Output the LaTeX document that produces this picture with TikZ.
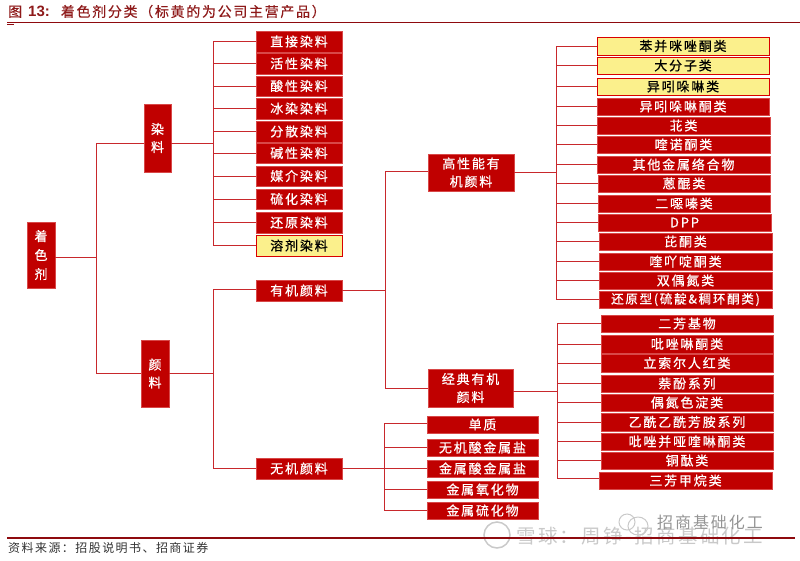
\documentclass[tikz,border=0pt]{standalone}
\usepackage{fontspec}
\setmainfont{Liberation Sans}
\newfontfamily\cjk[LetterSpace=14,FakeBold=0.6]{Noto Sans CJK SC}
\newfontfamily\cjkt[LetterSpace=12,FakeBold=0.4]{Noto Sans CJK SC}
\newfontfamily\cjks[LetterSpace=12]{Noto Sans CJK SC}
\newfontfamily\cjkw[LetterSpace=12]{Noto Sans CJK SC}
\definecolor{boxred}{HTML}{C00000}
\definecolor{edge}{HTML}{D84848}
\definecolor{lnk}{HTML}{C8282C}
\definecolor{yel}{HTML}{FBF08C}
\definecolor{rule}{HTML}{8E0A0E}
\definecolor{ttl}{HTML}{8E1A1A}
\definecolor{wm}{HTML}{C9C9C9}
\tikzset{
 rbox/.style={draw=edge,line width=.5pt,fill=boxred,text=white,inner sep=0pt,align=center,font=\cjk\fontsize{13}{18}\selectfont},
 ybox/.style={rbox,draw=red!85!black,fill=yel,text=black},
 lnkline/.style={draw=lnk,line width=.9pt},
 wmark/.style={text=wm,inner sep=0pt,anchor=west},
}
\newcommand{\bx}[7][rbox]{\node[#1,minimum width=#5pt-#3pt,minimum height=#6pt-#4pt] (#2) at ({(#3+#5)/2},{(#4+#6)/2}) {#7};}
\begin{document}
\begin{tikzpicture}[x=1pt,y=-1pt]
\useasboundingbox (0,0) rectangle (800,560);
% watermark
\draw[draw=wm,line width=1.5pt] (497,535) circle (13);
\draw[draw=wm,line width=1pt] (627,522) ellipse (8 and 8);
\draw[draw=wm,line width=1pt] (638,526) ellipse (10 and 9);
\node[wmark,font=\cjkw\fontsize{19.5}{22}\selectfont] (wm1) at (516,536) {雪球：周铮-招商基础化工};
\node[wmark,text=black!42,font=\cjkw\fontsize{16}{18}\selectfont] (wm2) at (657,522) {招商基础化工};
% title
\node[anchor=west,inner sep=0pt,text=ttl,font=\cjkt\fontsize{14}{16}\selectfont] (title) at (8,11.5) {图\hspace{6pt}{\fontspec{Liberation Sans}\bfseries\fontsize{15}{16}\selectfont 13:}\hspace{11pt}着色剂分类（标黄的为公司主营产品）};
\coordinate (ruleL) at (7,22.5); \coordinate (ruleR) at (800,22.5);
\draw[draw=rule,line width=.9pt] (ruleL) -- (ruleR);
\draw[draw=rule,line width=1pt] (7,24) -- (14,24);
% left
\bx{col}{27}{222}{55}{288}{着\\[1pt]色\\[1pt]剂}
\bx{ran}{144}{104}{171}{172}{染\\料}
\bx{yan}{141}{340}{169}{407}{颜\\料}
% dyes
\bx{d1}{256}{31}{342}{52}{直接染料}
\bx{d2}{256}{53}{342}{74}{活性染料}
\bx{d3}{256}{76}{342}{96}{酸性染料}
\bx{d4}{256}{98}{342}{119}{冰染染料}
\bx{d5}{256}{121}{342}{142}{分散染料}
\bx{d6}{256}{143}{342}{163}{碱性染料}
\bx{d7}{256}{166}{342}{186}{媒介染料}
\bx{d8}{256}{189}{342}{209}{硫化染料}
\bx{d9}{256}{212}{342}{233}{还原染料}
\bx[ybox]{d10}{256}{235}{342}{256}{溶剂染料}
% pigments
\bx{org}{256}{280}{342}{301}{有机颜料}
\bx{inorg}{256}{458}{342}{479}{无机颜料}
\bx{hp}{428}{154}{514}{191}{高性能有\\机颜料}
\bx{cl}{428}{369}{513}{407}{经典有机\\颜料}
% inorganic
\bx{i1}{427}{416}{538}{433}{单质}
\bx{i2}{427}{439}{538}{456}{无机酸金属盐}
\bx{i3}{427}{460}{538}{477}{金属酸金属盐}
\bx{i4}{427}{481}{538}{498}{金属氧化物}
\bx{i5}{427}{502}{538}{519}{金属硫化物}
% high performance
\bx[ybox]{h1}{597}{37}{769}{55}{苯并咪唑酮类}
\bx[ybox]{h2}{597}{57}{769}{74}{大分子类}
\bx[ybox]{h3}{597}{78}{769}{95}{异吲哚啉类}
\bx{h4}{597}{98}{769}{115}{异吲哚啉酮类}
\bx{h5}{597}{117}{770}{134}{苝类}
\bx{h6}{597}{136}{770}{153}{喹诺酮类}
\bx{h7}{597}{156}{770}{173}{其他金属络合物}
\bx{h8}{598}{175}{770}{192}{蒽醌类}
\bx{h9}{598}{195}{770}{212}{二噁嗪类}
\bx{h10}{598}{214}{771}{231}{DPP}
\bx{h11}{599}{233}{772}{250}{芘酮类}
\bx{h12}{599}{253}{772}{270}{喹吖啶酮类}
\bx{h13}{599}{272}{772}{289}{双偶氮类}
\bx{h14}{599}{291}{772}{308}{\fontsize{12.5}{18}\selectfont 还原型(硫靛\&稠环酮类)}
% classic
\bx{c1}{601}{315}{773}{332}{二芳基物}
\bx{c2}{601}{335}{773}{353}{吡唑啉酮类}
\bx{c3}{601}{354}{773}{372}{立索尔人红类}
\bx{c4}{601}{375}{773}{392}{萘酚系列}
\bx{c5}{601}{394}{773}{411}{偶氮色淀类}
\bx{c6}{601}{413}{773}{431}{乙酰乙酰芳胺系列}
\bx{c7}{601}{433}{773}{450}{吡唑并哑喹啉酮类}
\bx{c8}{601}{452}{773}{469}{铜酞类}
\bx{c9}{599}{472}{772}{489}{三芳甲烷类}
% trunks
\coordinate (t0) at (96,257);
\coordinate (t1) at (213,143.5);
\coordinate (t2) at (213,373.5);
\coordinate (t3) at (385,290.5);
\coordinate (t4) at (384,468.5);
\coordinate (t5) at (556,172.5);
\coordinate (t6) at (557.5,391);
\draw[lnkline] (t0 -| col.east) -- (t0);
\draw[lnkline] (t0) |- (t1 -| ran.west);
\draw[lnkline] (t0) |- (t2 -| yan.west);
\draw[lnkline] (t1 -| ran.east) -- (t1);
\foreach \n in {d1,d2,d3,d4,d5,d6,d7,d8,d9,d10} \draw[lnkline] (t1) |- (\n.west);
\draw[lnkline] (t2 -| yan.east) -- (t2);
\draw[lnkline] (t2) |- ([yshift=1.5pt]org.west);
\draw[lnkline] (t2) |- (inorg.west);
\draw[lnkline] (t3 -| org.east) -- (t3);
\draw[lnkline] (t3) |- ([yshift=1.5pt]hp.west);
\draw[lnkline] (t3) |- (cl.west);
\draw[lnkline] (t4 -| inorg.east) -- (t4);
\draw[lnkline] (t4) |- ([yshift=1.5pt]i1.west);
\foreach \n in {i2,i3,i4,i5} \draw[lnkline] (t4) |- (\n.west);
\draw[lnkline] (t5 -| hp.east) -- (t5);
\foreach \n in {h1,h2,h3,h4,h5,h6,h7,h8,h9,h10,h11,h12,h13,h14} \draw[lnkline] (t5) |- (\n.west);
\draw[lnkline] (t6 -| cl.east) -- (t6);
\foreach \n in {c1,c2,c3,c4,c5,c6,c7,c8} \draw[lnkline] (t6) |- (\n.west);
\draw[lnkline] (t6) |- ([yshift=2.5pt]c9.west);
% bottom
\coordinate (botL) at (7,538); \coordinate (botR) at (795,538);
\draw[draw=rule,line width=2pt] (botL) -- (botR);
\node[anchor=west,inner sep=0pt,text=black!80,font=\cjks\fontsize{12}{14}\selectfont] (src) at (8,548) {资料来源：招股说明书、招商证券};
\end{tikzpicture}
\end{document}
